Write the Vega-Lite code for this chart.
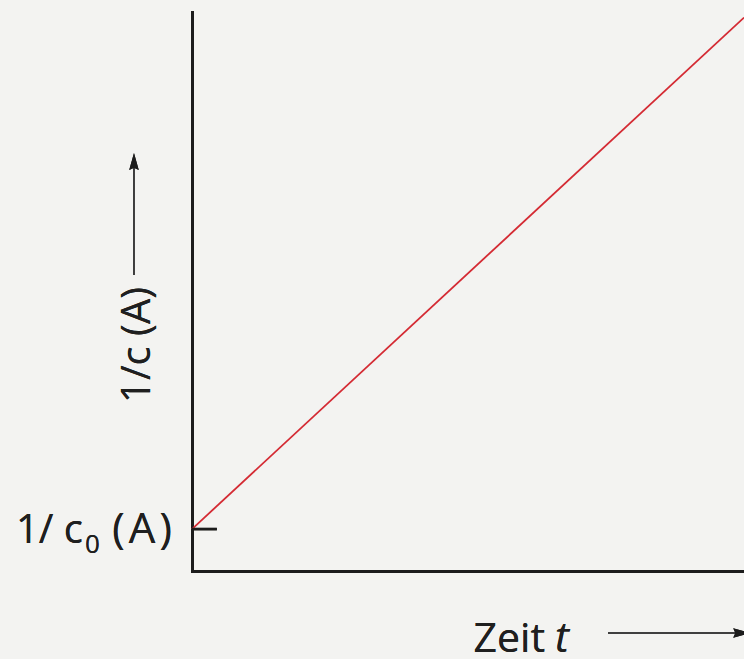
{
  "$schema": "https://vega.github.io/schema/vega-lite/v6.json",
  "width": 552,
  "height": 559,
  "autosize": {"type": "none"},
  "padding": {"left": 192, "top": 12, "right": 0, "bottom": 88},
  "background": "#f3f3f1",
  "config": {
    "view": {"stroke": null},
    "text": {"font": "Open Sans", "color": "#1f1f1f"}
  },
  "data": {"values": [
    {"t": 0, "inv_c": 0.075},
    {"t": 1, "inv_c": 0.99}
  ]},
  "layer": [
    {
      "mark": {"type": "line", "color": "#d42a33", "strokeWidth": 1.8},
      "encoding": {
        "x": {
          "field": "t", "type": "quantitative",
          "scale": {"domain": [0, 1], "nice": false, "zero": false},
          "axis": {"domain": true, "domainColor": "#1c1c1c", "domainWidth": 3, "domainCap": "square",
                   "ticks": false, "labels": false, "grid": false, "title": null}
        },
        "y": {
          "field": "inv_c", "type": "quantitative",
          "scale": {"domain": [0, 1], "nice": false, "zero": false},
          "axis": {"domain": true, "domainColor": "#1c1c1c", "domainWidth": 3, "domainCap": "square",
                   "ticks": false, "labels": false, "grid": false, "title": null}
        }
      }
    },
    {
      "mark": {"type": "rule", "color": "#1c1c1c", "strokeWidth": 2.5},
      "encoding": {
        "x": {"datum": 0, "type": "quantitative"},
        "x2": {"datum": 0.045},
        "y": {"datum": 0.075, "type": "quantitative"}
      }
    },
    {
      "mark": {"type": "text", "text": "1/ c", "fontSize": 40, "align": "right", "baseline": "alphabetic"},
      "encoding": {
        "x": {"datum": -0.1975, "type": "quantitative"},
        "y": {"datum": 0.0501, "type": "quantitative"}
      }
    },
    {
      "mark": {"type": "text", "text": "0", "fontSize": 26, "align": "left", "baseline": "alphabetic"},
      "encoding": {
        "x": {"datum": -0.1938, "type": "quantitative"},
        "y": {"datum": 0.0322, "type": "quantitative"}
      }
    },
    {
      "mark": {"type": "text", "text": "(\u200aA\u200a)", "fontSize": 42, "align": "right", "baseline": "alphabetic"},
      "encoding": {
        "x": {"datum": -0.0362, "type": "quantitative"},
        "y": {"datum": 0.0501, "type": "quantitative"}
      }
    },
    {
      "mark": {"type": "text", "text": "1/c (A)", "fontSize": 40, "angle": 270, "align": "center", "baseline": "alphabetic"},
      "encoding": {
        "x": {"datum": -0.0761, "type": "quantitative"},
        "y": {"datum": 0.4043, "type": "quantitative"}
      }
    },
    {
      "mark": {"type": "rule", "color": "#333333", "strokeWidth": 1.5},
      "encoding": {
        "x": {"datum": -0.1051, "type": "quantitative"},
        "y": {"datum": 0.5295, "type": "quantitative"},
        "y2": {"datum": 0.725}
      }
    },
    {
      "mark": {"type": "point", "shape": "M0,-1L0.45,0.6L0,0.4L-0.45,0.6Z", "size": 450, "filled": true, "color": "#1c1c1c", "opacity": 1},
      "encoding": {
        "x": {"datum": -0.1051, "type": "quantitative"},
        "y": {"datum": 0.7288, "type": "quantitative"}
      }
    },
    {
      "mark": {"type": "text", "text": "Zeit", "fontSize": 41, "align": "right", "baseline": "alphabetic"},
      "encoding": {
        "x": {"datum": 0.6395, "type": "quantitative"},
        "y": {"datum": -0.1449, "type": "quantitative"}
      }
    },
    {
      "mark": {"type": "text", "text": "t", "fontSize": 42, "fontStyle": "italic", "align": "left", "baseline": "alphabetic"},
      "encoding": {
        "x": {"datum": 0.6576, "type": "quantitative"},
        "y": {"datum": -0.1449, "type": "quantitative"}
      }
    },
    {
      "mark": {"type": "rule", "color": "#333333", "strokeWidth": 1.5},
      "encoding": {
        "x": {"datum": 0.7536, "type": "quantitative"},
        "x2": {"datum": 0.99},
        "y": {"datum": -0.1109, "type": "quantitative"}
      }
    },
    {
      "mark": {"type": "point", "shape": "M0,-1L0.45,0.6L0,0.4L-0.45,0.6Z", "size": 450, "angle": 90, "filled": true, "color": "#1c1c1c", "opacity": 1},
      "encoding": {
        "x": {"datum": 0.992, "type": "quantitative"},
        "y": {"datum": -0.1109, "type": "quantitative"}
      }
    }
  ]
}
